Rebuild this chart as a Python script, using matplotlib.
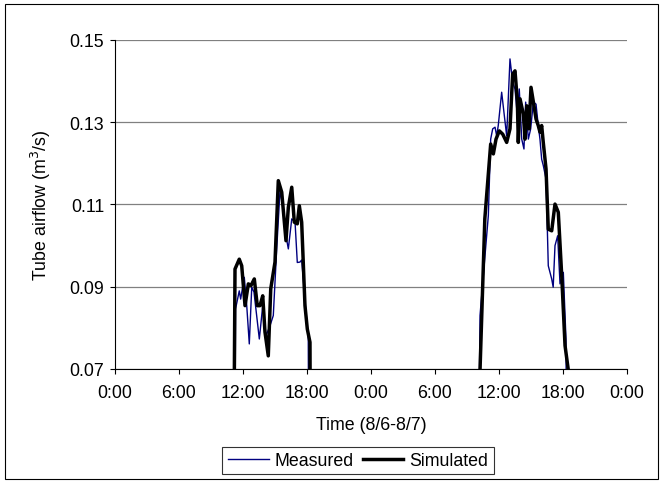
import matplotlib
matplotlib.use("Agg")
import matplotlib.pyplot as plt
from matplotlib.patches import Rectangle

plt.rcParams['font.family'] = ['Liberation Sans', 'DejaVu Sans']

# Time in hours since 0:00 on 8/6
sim_hours = [11.02, 11.25, 11.65, 11.88, 12.19, 12.50, 12.75, 13.06, 13.34, 13.59,
             13.85, 14.06, 14.37, 14.60, 15.00, 15.31, 15.63, 16.03, 16.25, 16.57,
             16.81, 17.09, 17.28, 17.50, 17.81, 18.03, 18.28, 18.37,
             33.37, 34.67, 35.22, 35.47, 35.72, 36.03, 36.35, 36.72, 37.03, 37.28,
             37.50, 37.72, 37.81, 37.97, 38.28, 38.44, 38.60, 38.81, 39.00, 39.28,
             39.47, 39.68, 39.84, 40.00, 40.15, 40.41, 40.62, 40.94, 41.25, 41.56,
             41.88, 42.19, 42.51, 42.56]
sim_flow = [0.0, 0.0943, 0.0967, 0.0951, 0.0854, 0.0907, 0.0903, 0.0919, 0.0854, 0.0854,
            0.0878, 0.0790, 0.0732, 0.0895, 0.0960, 0.1158, 0.1130, 0.1012, 0.1093, 0.1142,
            0.1057, 0.1053, 0.1097, 0.1057, 0.0854, 0.0797, 0.0765, 0.0,
            0.0, 0.1065, 0.1247, 0.1223, 0.1259, 0.1279, 0.1271, 0.1251, 0.1284, 0.1417,
            0.1425, 0.1352, 0.1251, 0.1357, 0.1320, 0.1259, 0.1340, 0.1284, 0.1385, 0.1340,
            0.1308, 0.1292, 0.1276, 0.1292, 0.1251, 0.1186, 0.1040, 0.1036, 0.1101, 0.1081,
            0.0927, 0.0757, 0.0695, 0.0]

meas_hours = [11.17, 11.30, 11.65, 11.78, 12.12, 12.35, 12.59, 12.82, 13.03, 13.28,
              13.53, 13.85, 14.16, 14.53, 14.84, 15.16, 15.47, 15.72, 16.03, 16.25,
              16.57, 16.88, 17.09, 17.34, 17.50, 18.12, 18.23,
              33.94, 34.22, 35.00, 35.22, 35.41, 35.63, 35.78, 35.93, 36.25, 36.50,
              36.72, 37.03, 37.28, 37.50, 37.72, 37.90, 38.13, 38.34, 38.50, 38.75,
              38.97, 39.22, 39.47, 39.68, 39.84, 40.00, 40.15, 40.41, 40.62, 40.94,
              41.08, 41.25, 41.50, 41.72, 42.03, 42.28, 42.42]
meas_flow = [0.0, 0.0846, 0.0890, 0.0870, 0.0923, 0.0854, 0.0761, 0.0899, 0.0887, 0.0830,
             0.0773, 0.0854, 0.0781, 0.0805, 0.0830, 0.0992, 0.1134, 0.1097, 0.1024, 0.0992,
             0.1065, 0.1057, 0.0959, 0.0960, 0.0965, 0.0773, 0.0,
             0.0, 0.0830, 0.1073, 0.1259, 0.1284, 0.1288, 0.1267, 0.1292, 0.1373, 0.1316,
             0.1267, 0.1454, 0.1397, 0.1381, 0.1316, 0.1381, 0.1259, 0.1235, 0.1349, 0.1259,
             0.1284, 0.1349, 0.1344, 0.1292, 0.1259, 0.1210, 0.1195, 0.1162, 0.0951, 0.0919,
             0.0899, 0.1000, 0.1024, 0.0907, 0.0935, 0.0773, 0.0]

x_ticks = [0, 6, 12, 18, 24, 30, 36, 42, 48]
x_tick_labels = ["0:00", "6:00", "12:00", "18:00", "0:00", "6:00", "12:00", "18:00", "0:00"]
y_ticks = [0.07, 0.09, 0.11, 0.13, 0.15]
y_tick_labels = ["0.07", "0.09", "0.11", "0.13", "0.15"]

FS = 12.8
W, H = 663, 485
fig = plt.figure(figsize=(W / 100, H / 100), dpi=100)
fig.patches.append(Rectangle((5 / W, 5 / H), 653 / W, 475 / H, transform=fig.transFigure,
                             fill=False, edgecolor='black', linewidth=0.8))

ax = fig.add_axes([115 / W, 1 - 370 / H, 512 / W, 329 / H])
ax.plot(meas_hours, meas_flow, color='#000080', linewidth=1.0, label='Measured')
ax.plot(sim_hours, sim_flow, color='black', linewidth=2.5, label='Simulated')

ax.set_xlim(0, 48)
ax.set_ylim(0.07, 0.15)
ax.set_xticks(x_ticks)
ax.set_xticklabels(x_tick_labels)
ax.set_yticks(y_ticks)
ax.set_yticklabels(y_tick_labels)
ax.yaxis.grid(True, color='#808080', linewidth=0.9)
ax.set_axisbelow(True)
for s in ['top', 'right']:
    ax.spines[s].set_visible(False)
for s in ['left', 'bottom']:
    ax.spines[s].set_color('black')
    ax.spines[s].set_linewidth(0.8)
ax.tick_params(axis='both', direction='out', length=3.6, width=0.8, labelsize=FS, pad=4.3)
ax.tick_params(axis='x', pad=7)

ax.set_xlabel("Time (8/6-8/7)", fontsize=FS, labelpad=11)
ax.set_ylabel("Tube airflow (m$^3$/s)", fontsize=FS, labelpad=12)

leg = fig.legend(loc='center', bbox_to_anchor=(358 / W, 1 - 461.5 / H), ncol=2,
                 frameon=True, fancybox=False, edgecolor='black', fontsize=FS,
                 handlelength=2.3, handletextpad=0.33, columnspacing=0.5,
                 borderpad=0.3, borderaxespad=0)
leg.get_frame().set_linewidth(0.8)

fig.savefig("out.png", dpi=100)
